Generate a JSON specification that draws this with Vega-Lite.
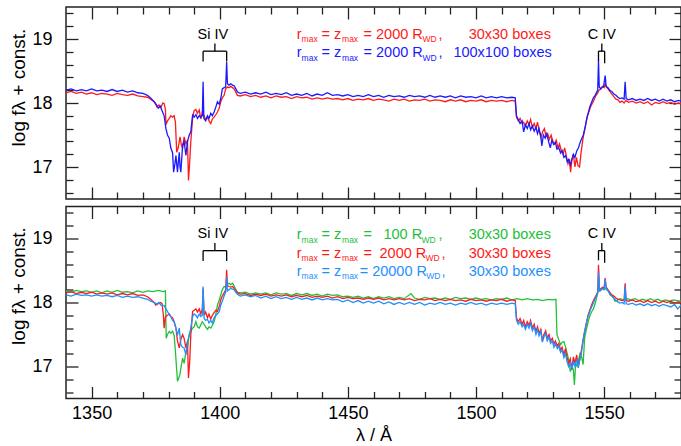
{
"$schema":"https://vega.github.io/schema/vega-lite/v6.json",
"padding":{"left":8,"top":5,"right":0,"bottom":4},
"spacing":3.5,
"config":{"font":"Liberation Sans","view":{"stroke":"#222","strokeWidth":1.5},"axis":{"labelColor":"#000","titleColor":"#000","tickColor":"#222","tickWidth":1.3}},
"datasets":{
"t30":[{"w":1340,"f":18.16},{"w":1342,"f":18.18},{"w":1344,"f":18.15},{"w":1346,"f":18.17},{"w":1348,"f":18.14},{"w":1350,"f":18.16},{"w":1352,"f":18.13},{"w":1354,"f":18.15},{"w":1356,"f":18.14},{"w":1358,"f":18.12},{"w":1360,"f":18.15},{"w":1362,"f":18.13},{"w":1364,"f":18.12},{"w":1366,"f":18.14},{"w":1368,"f":18.11},{"w":1370,"f":18.1},{"w":1371.8,"f":18.09},{"w":1373,"f":18.06},{"w":1374.4,"f":18.02},{"w":1375.5,"f":17.94},{"w":1376.3,"f":17.97},{"w":1377,"f":17.93},{"w":1377.8,"f":18.0},{"w":1378.3,"f":17.99},{"w":1378.8,"f":17.9},{"w":1379,"f":17.66},{"w":1379.6,"f":17.72},{"w":1380.3,"f":17.76},{"w":1380.9,"f":17.8},{"w":1381.6,"f":17.78},{"w":1382.2,"f":17.8},{"w":1382.7,"f":17.7},{"w":1383.2,"f":17.23},{"w":1383.8,"f":17.3},{"w":1384.5,"f":17.47},{"w":1385,"f":17.35},{"w":1385.5,"f":17.29},{"w":1386.1,"f":17.47},{"w":1386.8,"f":17.36},{"w":1387.4,"f":17.42},{"w":1387.8,"f":16.79},{"w":1388.3,"f":17.1},{"w":1388.7,"f":17.4},{"w":1389.4,"f":17.76},{"w":1390,"f":17.88},{"w":1390.7,"f":17.9},{"w":1391.3,"f":17.84},{"w":1392,"f":17.89},{"w":1392.6,"f":17.75},{"w":1393.2,"f":17.85},{"w":1393.9,"f":17.8},{"w":1394.5,"f":17.74},{"w":1395.2,"f":17.78},{"w":1395.8,"f":17.72},{"w":1396.5,"f":17.68},{"w":1397.1,"f":17.75},{"w":1397.8,"f":17.78},{"w":1398.5,"f":17.82},{"w":1399.1,"f":17.86},{"w":1399.8,"f":17.92},{"w":1400.4,"f":18.02},{"w":1401,"f":18.08},{"w":1401.7,"f":18.12},{"w":1402.3,"f":18.22},{"w":1403,"f":18.25},{"w":1403.6,"f":18.24},{"w":1404.3,"f":18.26},{"w":1405,"f":18.24},{"w":1405.6,"f":18.22},{"w":1406.3,"f":18.17},{"w":1406.9,"f":18.12},{"w":1408,"f":18.11},{"w":1410,"f":18.13},{"w":1412,"f":18.1},{"w":1414,"f":18.12},{"w":1416,"f":18.09},{"w":1418,"f":18.11},{"w":1420,"f":18.08},{"w":1422,"f":18.11},{"w":1424,"f":18.09},{"w":1426,"f":18.1},{"w":1428,"f":18.07},{"w":1430,"f":18.1},{"w":1432,"f":18.08},{"w":1434,"f":18.09},{"w":1436,"f":18.06},{"w":1438,"f":18.08},{"w":1440,"f":18.06},{"w":1442,"f":18.08},{"w":1444,"f":18.06},{"w":1446,"f":18.07},{"w":1448,"f":18.05},{"w":1450,"f":18.07},{"w":1452,"f":18.04},{"w":1454,"f":18.06},{"w":1456,"f":18.05},{"w":1458,"f":18.07},{"w":1460,"f":18.04},{"w":1462,"f":18.06},{"w":1464,"f":18.05},{"w":1466,"f":18.03},{"w":1468,"f":18.06},{"w":1470,"f":18.04},{"w":1472,"f":18.06},{"w":1474,"f":18.03},{"w":1476,"f":18.05},{"w":1478,"f":18.04},{"w":1480,"f":18.06},{"w":1482,"f":18.03},{"w":1484,"f":18.05},{"w":1486,"f":18.04},{"w":1488,"f":18.02},{"w":1490,"f":18.05},{"w":1492,"f":18.03},{"w":1494,"f":18.05},{"w":1496,"f":18.02},{"w":1498,"f":18.04},{"w":1500,"f":18.03},{"w":1502,"f":18.05},{"w":1504,"f":18.02},{"w":1506,"f":18.04},{"w":1508,"f":18.03},{"w":1510,"f":18.04},{"w":1512,"f":18.02},{"w":1514,"f":18.04},{"w":1515.3,"f":18.03},{"w":1515.8,"f":17.78},{"w":1516.5,"f":17.72},{"w":1517.2,"f":17.76},{"w":1518,"f":17.68},{"w":1518.6,"f":17.7},{"w":1519.3,"f":17.64},{"w":1520,"f":17.72},{"w":1520.7,"f":17.66},{"w":1521.3,"f":17.74},{"w":1522,"f":17.62},{"w":1522.7,"f":17.68},{"w":1523.4,"f":17.6},{"w":1524,"f":17.7},{"w":1524.6,"f":17.58},{"w":1525.3,"f":17.46},{"w":1526,"f":17.55},{"w":1526.7,"f":17.6},{"w":1527.3,"f":17.48},{"w":1528,"f":17.52},{"w":1528.6,"f":17.43},{"w":1529.3,"f":17.5},{"w":1530,"f":17.4},{"w":1530.6,"f":17.36},{"w":1531.3,"f":17.42},{"w":1532,"f":17.3},{"w":1532.6,"f":17.36},{"w":1533.3,"f":17.25},{"w":1534,"f":17.2},{"w":1534.6,"f":17.3},{"w":1535.2,"f":17.18},{"w":1535.9,"f":17.05},{"w":1536.5,"f":17.12},{"w":1536.9,"f":16.92},{"w":1537.4,"f":17.1},{"w":1538,"f":17.2},{"w":1538.6,"f":17.0},{"w":1539.2,"f":17.15},{"w":1539.8,"f":17.02},{"w":1540.4,"f":17.0},{"w":1541,"f":17.22},{"w":1541.6,"f":17.4},{"w":1542.2,"f":17.55},{"w":1542.9,"f":17.68},{"w":1543.5,"f":17.8},{"w":1544.2,"f":17.88},{"w":1544.8,"f":17.95},{"w":1545.5,"f":18.0},{"w":1546.1,"f":18.05},{"w":1546.8,"f":18.12},{"w":1547.4,"f":18.15},{"w":1548,"f":18.2},{"w":1548.7,"f":18.22},{"w":1549.3,"f":18.26},{"w":1550,"f":18.24},{"w":1550.4,"f":18.3},{"w":1550.8,"f":18.25},{"w":1551.5,"f":18.22},{"w":1552.2,"f":18.18},{"w":1553,"f":18.14},{"w":1553.8,"f":18.1},{"w":1554.6,"f":18.06},{"w":1555.4,"f":18.05},{"w":1556.2,"f":18.01},{"w":1557,"f":18.03},{"w":1557.8,"f":18.0},{"w":1558.5,"f":18.04},{"w":1559.5,"f":18.01},{"w":1561,"f":18.03},{"w":1562.5,"f":18.0},{"w":1564,"f":18.02},{"w":1565.5,"f":17.99},{"w":1567,"f":18.02},{"w":1568.5,"f":17.97},{"w":1570,"f":18.01},{"w":1571.5,"f":17.99},{"w":1573,"f":18.02},{"w":1574.5,"f":17.99},{"w":1576,"f":18.01},{"w":1577.5,"f":17.98},{"w":1579,"f":18.0},{"w":1580,"f":17.99}],
"t100":[{"w":1340,"f":18.2},{"w":1342,"f":18.22},{"w":1344,"f":18.19},{"w":1346,"f":18.21},{"w":1348,"f":18.19},{"w":1350,"f":18.22},{"w":1352,"f":18.19},{"w":1354,"f":18.2},{"w":1356,"f":18.18},{"w":1358,"f":18.21},{"w":1360,"f":18.18},{"w":1362,"f":18.2},{"w":1364,"f":18.17},{"w":1366,"f":18.19},{"w":1368,"f":18.16},{"w":1370,"f":18.15},{"w":1371.8,"f":18.12},{"w":1373,"f":18.08},{"w":1374.4,"f":18.02},{"w":1375.2,"f":17.98},{"w":1376,"f":17.92},{"w":1376.8,"f":17.95},{"w":1377.5,"f":17.88},{"w":1378.3,"f":17.8},{"w":1379,"f":17.6},{"w":1379.6,"f":17.5},{"w":1380.3,"f":17.45},{"w":1380.9,"f":17.3},{"w":1381.6,"f":17.22},{"w":1382,"f":16.92},{"w":1382.5,"f":17.05},{"w":1382.9,"f":17.18},{"w":1383.2,"f":17.05},{"w":1383.5,"f":16.92},{"w":1383.9,"f":17.1},{"w":1384.2,"f":17.23},{"w":1384.5,"f":17.0},{"w":1384.8,"f":16.92},{"w":1385.2,"f":17.15},{"w":1385.5,"f":17.34},{"w":1386.1,"f":17.4},{"w":1386.8,"f":17.18},{"w":1387.4,"f":17.4},{"w":1388.1,"f":17.5},{"w":1388.7,"f":17.55},{"w":1389.4,"f":17.81},{"w":1390,"f":17.78},{"w":1390.7,"f":17.82},{"w":1391.3,"f":17.76},{"w":1392,"f":17.8},{"w":1392.6,"f":17.78},{"w":1393.2,"f":17.8},{"w":1393.5,"f":18.33},{"w":1393.8,"f":17.76},{"w":1394.5,"f":17.72},{"w":1395.2,"f":17.8},{"w":1395.8,"f":17.76},{"w":1396.5,"f":17.84},{"w":1397.1,"f":17.8},{"w":1397.8,"f":17.86},{"w":1398.5,"f":17.94},{"w":1399.1,"f":18.02},{"w":1399.8,"f":17.98},{"w":1400.4,"f":18.07},{"w":1401,"f":18.22},{"w":1401.7,"f":18.24},{"w":1402.3,"f":18.25},{"w":1402.7,"f":18.64},{"w":1403,"f":18.3},{"w":1403.6,"f":18.28},{"w":1404.3,"f":18.3},{"w":1405,"f":18.28},{"w":1405.6,"f":18.27},{"w":1406.3,"f":18.22},{"w":1406.9,"f":18.17},{"w":1408,"f":18.15},{"w":1410,"f":18.17},{"w":1412,"f":18.14},{"w":1414,"f":18.16},{"w":1416,"f":18.14},{"w":1418,"f":18.17},{"w":1420,"f":18.13},{"w":1422,"f":18.15},{"w":1424,"f":18.13},{"w":1426,"f":18.16},{"w":1428,"f":18.12},{"w":1430,"f":18.14},{"w":1432,"f":18.12},{"w":1434,"f":18.15},{"w":1436,"f":18.11},{"w":1438,"f":18.14},{"w":1440,"f":18.12},{"w":1442,"f":18.16},{"w":1444,"f":18.12},{"w":1446,"f":18.13},{"w":1448,"f":18.11},{"w":1450,"f":18.13},{"w":1452,"f":18.1},{"w":1454,"f":18.12},{"w":1456,"f":18.1},{"w":1458,"f":18.13},{"w":1460,"f":18.1},{"w":1462,"f":18.12},{"w":1464,"f":18.09},{"w":1466,"f":18.12},{"w":1468,"f":18.1},{"w":1470,"f":18.11},{"w":1472,"f":18.09},{"w":1474,"f":18.12},{"w":1476,"f":18.1},{"w":1478,"f":18.11},{"w":1480,"f":18.09},{"w":1482,"f":18.12},{"w":1484,"f":18.09},{"w":1486,"f":18.11},{"w":1488,"f":18.09},{"w":1490,"f":18.11},{"w":1492,"f":18.08},{"w":1494,"f":18.11},{"w":1496,"f":18.09},{"w":1498,"f":18.1},{"w":1500,"f":18.08},{"w":1502,"f":18.11},{"w":1504,"f":18.08},{"w":1506,"f":18.1},{"w":1508,"f":18.08},{"w":1510,"f":18.1},{"w":1512,"f":18.08},{"w":1514,"f":18.09},{"w":1515.3,"f":18.08},{"w":1515.8,"f":17.8},{"w":1516.5,"f":17.74},{"w":1517.2,"f":17.68},{"w":1518,"f":17.72},{"w":1518.6,"f":17.55},{"w":1519.3,"f":17.66},{"w":1520,"f":17.6},{"w":1520.7,"f":17.68},{"w":1521.3,"f":17.58},{"w":1522,"f":17.64},{"w":1522.7,"f":17.56},{"w":1523.4,"f":17.62},{"w":1524,"f":17.52},{"w":1524.6,"f":17.6},{"w":1525.3,"f":17.48},{"w":1525.7,"f":17.33},{"w":1526.3,"f":17.5},{"w":1527,"f":17.45},{"w":1527.6,"f":17.52},{"w":1528.3,"f":17.4},{"w":1529,"f":17.3},{"w":1529.6,"f":17.42},{"w":1530.3,"f":17.35},{"w":1531,"f":17.38},{"w":1531.6,"f":17.28},{"w":1532.3,"f":17.3},{"w":1533,"f":17.22},{"w":1533.6,"f":17.26},{"w":1534.3,"f":17.15},{"w":1535,"f":17.18},{"w":1535.6,"f":17.08},{"w":1536.2,"f":17.12},{"w":1536.8,"f":17.03},{"w":1537.4,"f":17.12},{"w":1538,"f":17.2},{"w":1538.6,"f":17.15},{"w":1539.3,"f":17.25},{"w":1540,"f":17.3},{"w":1540.6,"f":17.38},{"w":1541.3,"f":17.45},{"w":1541.9,"f":17.5},{"w":1542.6,"f":17.62},{"w":1543.2,"f":17.75},{"w":1543.9,"f":17.86},{"w":1544.5,"f":17.95},{"w":1545.2,"f":18.02},{"w":1545.8,"f":18.08},{"w":1546.5,"f":18.12},{"w":1547.1,"f":18.17},{"w":1547.5,"f":18.2},{"w":1547.8,"f":18.67},{"w":1548.1,"f":18.25},{"w":1548.7,"f":18.22},{"w":1549.3,"f":18.25},{"w":1549.8,"f":18.26},{"w":1550.4,"f":18.43},{"w":1550.8,"f":18.26},{"w":1551.5,"f":18.24},{"w":1552.2,"f":18.2},{"w":1553,"f":18.18},{"w":1553.8,"f":18.14},{"w":1554.6,"f":18.12},{"w":1555.4,"f":18.09},{"w":1556.2,"f":18.07},{"w":1557,"f":18.08},{"w":1557.8,"f":18.06},{"w":1558.2,"f":18.33},{"w":1558.6,"f":18.07},{"w":1559.5,"f":18.05},{"w":1561,"f":18.07},{"w":1562.5,"f":18.04},{"w":1564,"f":18.06},{"w":1565.5,"f":18.04},{"w":1567,"f":18.07},{"w":1568.5,"f":18.04},{"w":1570,"f":18.06},{"w":1571.5,"f":18.03},{"w":1573,"f":18.06},{"w":1574.5,"f":18.03},{"w":1576,"f":18.05},{"w":1577.5,"f":18.02},{"w":1579,"f":18.04},{"w":1580,"f":18.03}],
"b100":[{"w":1340,"f":18.18},{"w":1342,"f":18.16},{"w":1344,"f":18.19},{"w":1346,"f":18.17},{"w":1348,"f":18.18},{"w":1350,"f":18.16},{"w":1352,"f":18.18},{"w":1354,"f":18.15},{"w":1356,"f":18.18},{"w":1358,"f":18.16},{"w":1360,"f":18.19},{"w":1362,"f":18.16},{"w":1364,"f":18.17},{"w":1366,"f":18.15},{"w":1368,"f":18.18},{"w":1370,"f":18.16},{"w":1372,"f":18.18},{"w":1374,"f":18.17},{"w":1376,"f":18.19},{"w":1378,"f":18.17},{"w":1378.8,"f":18.18},{"w":1379.1,"f":17.44},{"w":1379.6,"f":17.5},{"w":1380.3,"f":17.55},{"w":1380.9,"f":17.52},{"w":1381.6,"f":17.55},{"w":1382.2,"f":17.49},{"w":1382.6,"f":17.29},{"w":1383.2,"f":16.95},{"w":1383.5,"f":16.77},{"w":1384,"f":16.82},{"w":1384.5,"f":16.88},{"w":1384.8,"f":16.97},{"w":1385.5,"f":17.13},{"w":1386.1,"f":17.05},{"w":1386.8,"f":17.23},{"w":1387.4,"f":17.29},{"w":1388.1,"f":17.5},{"w":1388.7,"f":17.55},{"w":1389.4,"f":17.6},{"w":1390,"f":17.62},{"w":1390.7,"f":17.7},{"w":1391.3,"f":17.62},{"w":1392,"f":17.6},{"w":1392.6,"f":17.65},{"w":1393.2,"f":17.7},{"w":1393.9,"f":17.66},{"w":1394.5,"f":17.62},{"w":1395.2,"f":17.58},{"w":1395.8,"f":17.62},{"w":1396.5,"f":17.6},{"w":1397.1,"f":17.64},{"w":1397.8,"f":17.7},{"w":1398.5,"f":17.82},{"w":1399.1,"f":17.96},{"w":1399.8,"f":18.04},{"w":1400.4,"f":18.12},{"w":1401,"f":18.2},{"w":1401.7,"f":18.25},{"w":1402.3,"f":18.24},{"w":1403,"f":18.28},{"w":1403.6,"f":18.3},{"w":1404.3,"f":18.28},{"w":1405,"f":18.3},{"w":1405.6,"f":18.26},{"w":1406.3,"f":18.2},{"w":1406.9,"f":18.16},{"w":1408,"f":18.15},{"w":1410,"f":18.16},{"w":1412,"f":18.13},{"w":1414,"f":18.15},{"w":1416,"f":18.13},{"w":1418,"f":18.15},{"w":1420,"f":18.12},{"w":1422,"f":18.15},{"w":1424,"f":18.13},{"w":1426,"f":18.14},{"w":1428,"f":18.11},{"w":1430,"f":18.14},{"w":1432,"f":18.12},{"w":1434,"f":18.14},{"w":1436,"f":18.11},{"w":1438,"f":18.13},{"w":1440,"f":18.1},{"w":1442,"f":18.13},{"w":1444,"f":18.11},{"w":1446,"f":18.12},{"w":1448,"f":18.09},{"w":1450,"f":18.1},{"w":1452,"f":18.08},{"w":1454,"f":18.1},{"w":1456,"f":18.07},{"w":1458,"f":18.09},{"w":1460,"f":18.06},{"w":1462,"f":18.09},{"w":1464,"f":18.07},{"w":1466,"f":18.09},{"w":1468,"f":18.06},{"w":1470,"f":18.08},{"w":1472,"f":18.06},{"w":1474.6,"f":18.14},{"w":1476,"f":18.07},{"w":1478,"f":18.05},{"w":1480,"f":18.08},{"w":1482,"f":18.06},{"w":1484,"f":18.07},{"w":1486,"f":18.05},{"w":1488,"f":18.07},{"w":1490,"f":18.05},{"w":1492,"f":18.08},{"w":1494,"f":18.06},{"w":1496,"f":18.07},{"w":1498,"f":18.05},{"w":1500,"f":18.07},{"w":1502,"f":18.05},{"w":1504,"f":18.06},{"w":1506,"f":18.04},{"w":1508,"f":18.06},{"w":1510,"f":18.05},{"w":1512,"f":18.07},{"w":1514,"f":18.04},{"w":1516,"f":18.06},{"w":1518,"f":18.04},{"w":1520,"f":18.06},{"w":1522,"f":18.04},{"w":1524,"f":18.05},{"w":1526,"f":18.03},{"w":1528,"f":18.05},{"w":1530,"f":18.04},{"w":1531.2,"f":18.05},{"w":1531.6,"f":17.5},{"w":1532.3,"f":17.42},{"w":1533,"f":17.34},{"w":1533.6,"f":17.38},{"w":1534.3,"f":17.39},{"w":1535,"f":17.3},{"w":1535.6,"f":17.2},{"w":1536.2,"f":17.1},{"w":1536.8,"f":16.92},{"w":1537.4,"f":17.0},{"w":1538,"f":16.95},{"w":1538.4,"f":16.71},{"w":1538.8,"f":16.98},{"w":1539.3,"f":17.03},{"w":1540,"f":17.1},{"w":1540.6,"f":17.2},{"w":1541.2,"f":17.15},{"w":1541.8,"f":17.03},{"w":1542.4,"f":17.45},{"w":1543.2,"f":17.6},{"w":1543.9,"f":17.72},{"w":1544.5,"f":17.8},{"w":1545.2,"f":17.86},{"w":1545.8,"f":17.9},{"w":1546.5,"f":17.98},{"w":1547.1,"f":18.08},{"w":1547.8,"f":18.25},{"w":1548.4,"f":18.18},{"w":1549,"f":18.2},{"w":1549.7,"f":18.22},{"w":1550.4,"f":18.22},{"w":1551,"f":18.2},{"w":1551.7,"f":18.18},{"w":1552.3,"f":18.12},{"w":1553,"f":18.1},{"w":1553.6,"f":18.08},{"w":1554.2,"f":18.02},{"w":1554.9,"f":18.03},{"w":1555.6,"f":18.05},{"w":1556.2,"f":18.06},{"w":1557,"f":18.05},{"w":1558,"f":18.04},{"w":1559,"f":18.06},{"w":1560.5,"f":18.04},{"w":1562,"f":18.06},{"w":1563.5,"f":18.03},{"w":1565,"f":18.05},{"w":1566.5,"f":18.03},{"w":1568,"f":18.06},{"w":1569.5,"f":18.03},{"w":1571,"f":18.05},{"w":1572.5,"f":18.02},{"w":1574,"f":18.04},{"w":1575.5,"f":18.02},{"w":1577,"f":18.04},{"w":1578.5,"f":18.03},{"w":1580,"f":18.02}],
"b2000":[{"w":1340,"f":18.15},{"w":1342,"f":18.17},{"w":1344,"f":18.14},{"w":1346,"f":18.16},{"w":1348,"f":18.14},{"w":1350,"f":18.16},{"w":1352,"f":18.13},{"w":1354,"f":18.15},{"w":1356,"f":18.13},{"w":1358,"f":18.15},{"w":1360,"f":18.12},{"w":1362,"f":18.14},{"w":1364,"f":18.12},{"w":1366,"f":18.14},{"w":1368,"f":18.11},{"w":1370,"f":18.12},{"w":1371.8,"f":18.09},{"w":1373,"f":18.05},{"w":1374.4,"f":18.0},{"w":1375,"f":17.96},{"w":1376,"f":17.98},{"w":1377,"f":18.0},{"w":1377.5,"f":17.98},{"w":1378,"f":17.8},{"w":1378.3,"f":17.6},{"w":1378.8,"f":17.78},{"w":1379.6,"f":17.8},{"w":1380.3,"f":17.82},{"w":1380.9,"f":17.78},{"w":1381.6,"f":17.76},{"w":1382.2,"f":17.7},{"w":1382.9,"f":17.6},{"w":1383.5,"f":17.4},{"w":1384.2,"f":17.29},{"w":1384.8,"f":17.42},{"w":1385.5,"f":17.5},{"w":1386.1,"f":17.44},{"w":1386.8,"f":17.29},{"w":1387.4,"f":17.39},{"w":1387.8,"f":16.82},{"w":1388.3,"f":17.1},{"w":1388.7,"f":17.49},{"w":1389.4,"f":17.86},{"w":1390,"f":17.88},{"w":1390.7,"f":17.9},{"w":1391.3,"f":17.85},{"w":1392,"f":17.9},{"w":1392.6,"f":17.82},{"w":1393.2,"f":17.9},{"w":1393.5,"f":18.22},{"w":1393.9,"f":17.8},{"w":1394.5,"f":17.85},{"w":1395.2,"f":17.76},{"w":1395.8,"f":17.82},{"w":1396.5,"f":17.74},{"w":1397.1,"f":17.8},{"w":1397.8,"f":17.84},{"w":1398.5,"f":17.88},{"w":1399.1,"f":17.86},{"w":1399.8,"f":17.94},{"w":1400.4,"f":18.04},{"w":1401,"f":18.1},{"w":1401.7,"f":18.15},{"w":1402.3,"f":18.2},{"w":1402.7,"f":18.51},{"w":1403,"f":18.26},{"w":1403.6,"f":18.25},{"w":1404.3,"f":18.24},{"w":1405,"f":18.25},{"w":1405.6,"f":18.22},{"w":1406.3,"f":18.19},{"w":1406.9,"f":18.15},{"w":1408,"f":18.13},{"w":1410,"f":18.14},{"w":1412,"f":18.11},{"w":1414,"f":18.13},{"w":1416,"f":18.11},{"w":1418,"f":18.13},{"w":1420,"f":18.1},{"w":1422,"f":18.12},{"w":1424,"f":18.1},{"w":1426,"f":18.12},{"w":1428,"f":18.09},{"w":1430,"f":18.11},{"w":1432,"f":18.09},{"w":1434,"f":18.11},{"w":1436,"f":18.08},{"w":1438,"f":18.1},{"w":1440,"f":18.08},{"w":1442,"f":18.1},{"w":1444,"f":18.07},{"w":1446,"f":18.09},{"w":1448,"f":18.06},{"w":1450,"f":18.08},{"w":1452,"f":18.06},{"w":1454,"f":18.07},{"w":1456,"f":18.05},{"w":1458,"f":18.07},{"w":1460,"f":18.05},{"w":1462,"f":18.07},{"w":1464,"f":18.04},{"w":1466,"f":18.06},{"w":1468,"f":18.04},{"w":1470,"f":18.06},{"w":1472,"f":18.04},{"w":1474,"f":18.06},{"w":1476,"f":18.03},{"w":1478,"f":18.05},{"w":1480,"f":18.04},{"w":1482,"f":18.06},{"w":1484,"f":18.03},{"w":1486,"f":18.05},{"w":1488,"f":18.03},{"w":1490,"f":18.05},{"w":1492,"f":18.03},{"w":1494,"f":18.04},{"w":1496,"f":18.02},{"w":1498,"f":18.05},{"w":1500,"f":18.03},{"w":1502,"f":18.04},{"w":1504,"f":18.02},{"w":1506,"f":18.04},{"w":1508,"f":18.03},{"w":1510,"f":18.05},{"w":1512,"f":18.02},{"w":1514,"f":18.04},{"w":1515.3,"f":18.03},{"w":1515.8,"f":17.76},{"w":1516.5,"f":17.7},{"w":1517.2,"f":17.75},{"w":1518,"f":17.66},{"w":1518.6,"f":17.72},{"w":1519.3,"f":17.62},{"w":1520,"f":17.7},{"w":1520.7,"f":17.64},{"w":1521.3,"f":17.72},{"w":1522,"f":17.6},{"w":1522.7,"f":17.66},{"w":1523.4,"f":17.55},{"w":1524,"f":17.62},{"w":1524.6,"f":17.52},{"w":1525.3,"f":17.58},{"w":1525.9,"f":17.4},{"w":1526.5,"f":17.5},{"w":1527.2,"f":17.56},{"w":1527.8,"f":17.45},{"w":1528.5,"f":17.5},{"w":1529.1,"f":17.4},{"w":1529.8,"f":17.44},{"w":1530.4,"f":17.35},{"w":1531,"f":17.4},{"w":1531.7,"f":17.32},{"w":1532.3,"f":17.36},{"w":1533,"f":17.26},{"w":1533.6,"f":17.3},{"w":1534.3,"f":17.18},{"w":1534.9,"f":17.28},{"w":1535.5,"f":17.15},{"w":1536.1,"f":17.05},{"w":1536.8,"f":17.12},{"w":1537.4,"f":16.95},{"w":1538,"f":17.15},{"w":1538.6,"f":17.05},{"w":1539.3,"f":17.18},{"w":1539.9,"f":17.0},{"w":1540.5,"f":17.12},{"w":1541.1,"f":17.25},{"w":1541.8,"f":17.42},{"w":1542.4,"f":17.55},{"w":1543.1,"f":17.68},{"w":1543.7,"f":17.8},{"w":1544.4,"f":17.88},{"w":1545,"f":17.95},{"w":1545.7,"f":18.02},{"w":1546.3,"f":18.07},{"w":1547,"f":18.12},{"w":1547.5,"f":18.16},{"w":1547.8,"f":18.59},{"w":1548.2,"f":18.2},{"w":1548.8,"f":18.22},{"w":1549.4,"f":18.24},{"w":1550,"f":18.23},{"w":1550.4,"f":18.38},{"w":1550.8,"f":18.24},{"w":1551.5,"f":18.2},{"w":1552.2,"f":18.16},{"w":1553,"f":18.12},{"w":1553.8,"f":18.1},{"w":1554.6,"f":18.07},{"w":1555.4,"f":18.05},{"w":1556.2,"f":18.04},{"w":1557,"f":18.03},{"w":1557.8,"f":18.04},{"w":1558.2,"f":18.3},{"w":1558.6,"f":18.03},{"w":1559.5,"f":18.02},{"w":1561,"f":18.04},{"w":1562.5,"f":18.01},{"w":1564,"f":18.03},{"w":1565.5,"f":18.0},{"w":1567,"f":18.03},{"w":1568.5,"f":18.0},{"w":1570,"f":18.02},{"w":1571.5,"f":17.99},{"w":1573,"f":18.02},{"w":1574.5,"f":18.0},{"w":1576,"f":18.02},{"w":1577.5,"f":17.99},{"w":1579,"f":18.01},{"w":1580,"f":18.0}],
"b20000":[{"w":1340,"f":18.12},{"w":1342,"f":18.1},{"w":1344,"f":18.13},{"w":1346,"f":18.11},{"w":1348,"f":18.12},{"w":1350,"f":18.1},{"w":1352,"f":18.12},{"w":1354,"f":18.1},{"w":1356,"f":18.11},{"w":1358,"f":18.09},{"w":1360,"f":18.11},{"w":1362,"f":18.08},{"w":1364,"f":18.1},{"w":1366,"f":18.08},{"w":1368,"f":18.09},{"w":1370,"f":18.07},{"w":1371.8,"f":18.05},{"w":1373,"f":18.02},{"w":1374.4,"f":18.0},{"w":1375.5,"f":17.98},{"w":1376.3,"f":18.0},{"w":1377,"f":17.96},{"w":1378.3,"f":17.95},{"w":1379,"f":17.9},{"w":1379.6,"f":17.86},{"w":1380.3,"f":17.81},{"w":1380.9,"f":17.78},{"w":1381.6,"f":17.72},{"w":1382.2,"f":17.7},{"w":1382.9,"f":17.6},{"w":1383.5,"f":17.49},{"w":1384.2,"f":17.6},{"w":1384.8,"f":17.34},{"w":1385.5,"f":17.3},{"w":1386.1,"f":17.29},{"w":1386.8,"f":17.18},{"w":1387.4,"f":17.39},{"w":1388.1,"f":17.49},{"w":1388.7,"f":17.6},{"w":1389.4,"f":17.78},{"w":1390,"f":17.82},{"w":1390.7,"f":17.8},{"w":1391.3,"f":17.76},{"w":1392,"f":17.82},{"w":1392.6,"f":17.78},{"w":1393.2,"f":17.8},{"w":1393.5,"f":18.25},{"w":1393.9,"f":17.75},{"w":1394.5,"f":17.72},{"w":1395.2,"f":17.74},{"w":1395.8,"f":17.68},{"w":1396.5,"f":17.72},{"w":1397.1,"f":17.68},{"w":1397.8,"f":17.76},{"w":1398.5,"f":17.8},{"w":1399.1,"f":17.82},{"w":1399.8,"f":17.86},{"w":1400.4,"f":17.96},{"w":1401,"f":18.02},{"w":1401.7,"f":18.1},{"w":1402.3,"f":18.16},{"w":1402.7,"f":18.4},{"w":1403,"f":18.18},{"w":1403.6,"f":18.2},{"w":1404.3,"f":18.22},{"w":1405,"f":18.21},{"w":1405.6,"f":18.2},{"w":1406.3,"f":18.16},{"w":1406.9,"f":18.13},{"w":1408,"f":18.1},{"w":1410,"f":18.12},{"w":1412,"f":18.09},{"w":1414,"f":18.11},{"w":1416,"f":18.07},{"w":1418,"f":18.1},{"w":1420,"f":18.06},{"w":1422,"f":18.09},{"w":1424,"f":18.06},{"w":1426,"f":18.08},{"w":1428,"f":18.05},{"w":1430,"f":18.08},{"w":1432,"f":18.05},{"w":1434,"f":18.07},{"w":1436,"f":18.04},{"w":1438,"f":18.07},{"w":1440,"f":18.04},{"w":1442,"f":18.06},{"w":1444,"f":18.04},{"w":1446,"f":18.05},{"w":1448,"f":18.01},{"w":1450,"f":18.04},{"w":1452,"f":18.0},{"w":1454,"f":18.03},{"w":1456,"f":17.99},{"w":1458,"f":18.02},{"w":1460,"f":17.99},{"w":1462,"f":18.02},{"w":1464,"f":17.98},{"w":1466,"f":18.01},{"w":1468,"f":17.97},{"w":1470,"f":18.0},{"w":1472,"f":17.97},{"w":1474,"f":18.0},{"w":1476,"f":17.97},{"w":1478,"f":18.0},{"w":1480,"f":17.96},{"w":1482,"f":17.99},{"w":1484,"f":17.97},{"w":1486,"f":18.0},{"w":1488,"f":17.97},{"w":1490,"f":17.99},{"w":1492,"f":17.96},{"w":1494,"f":17.99},{"w":1496,"f":17.97},{"w":1498,"f":18.0},{"w":1500,"f":17.97},{"w":1502,"f":17.99},{"w":1504,"f":17.96},{"w":1506,"f":17.99},{"w":1508,"f":17.97},{"w":1510,"f":17.99},{"w":1512,"f":17.97},{"w":1514,"f":17.99},{"w":1515.3,"f":17.98},{"w":1515.8,"f":17.72},{"w":1516.5,"f":17.66},{"w":1517.2,"f":17.7},{"w":1518,"f":17.62},{"w":1518.6,"f":17.66},{"w":1519.3,"f":17.58},{"w":1520,"f":17.66},{"w":1520.7,"f":17.6},{"w":1521.3,"f":17.68},{"w":1522,"f":17.56},{"w":1522.7,"f":17.62},{"w":1523.4,"f":17.5},{"w":1524,"f":17.58},{"w":1524.6,"f":17.48},{"w":1525.3,"f":17.55},{"w":1525.9,"f":17.38},{"w":1526.5,"f":17.46},{"w":1527.2,"f":17.52},{"w":1527.8,"f":17.4},{"w":1528.5,"f":17.46},{"w":1529.1,"f":17.36},{"w":1529.8,"f":17.4},{"w":1530.4,"f":17.3},{"w":1531,"f":17.36},{"w":1531.7,"f":17.28},{"w":1532.3,"f":17.32},{"w":1533,"f":17.22},{"w":1533.6,"f":17.26},{"w":1534.3,"f":17.14},{"w":1534.9,"f":17.2},{"w":1535.5,"f":17.08},{"w":1536.1,"f":17.0},{"w":1536.8,"f":17.06},{"w":1537.4,"f":16.95},{"w":1538,"f":17.08},{"w":1538.6,"f":17.0},{"w":1539.3,"f":17.12},{"w":1539.9,"f":16.98},{"w":1540.5,"f":17.1},{"w":1541.1,"f":17.2},{"w":1541.8,"f":17.4},{"w":1542.4,"f":17.55},{"w":1543.1,"f":17.68},{"w":1543.7,"f":17.78},{"w":1544.4,"f":17.86},{"w":1545,"f":17.92},{"w":1545.7,"f":17.98},{"w":1546.3,"f":18.04},{"w":1547,"f":18.1},{"w":1547.5,"f":18.14},{"w":1547.8,"f":18.48},{"w":1548.2,"f":18.18},{"w":1548.8,"f":18.2},{"w":1549.4,"f":18.22},{"w":1550,"f":18.2},{"w":1550.4,"f":18.36},{"w":1550.8,"f":18.22},{"w":1551.5,"f":18.18},{"w":1552.2,"f":18.14},{"w":1553,"f":18.1},{"w":1553.8,"f":18.07},{"w":1554.6,"f":18.03},{"w":1555.4,"f":18.01},{"w":1556.2,"f":17.99},{"w":1557,"f":18.0},{"w":1557.8,"f":17.98},{"w":1558.2,"f":18.25},{"w":1558.6,"f":17.98},{"w":1559.5,"f":17.97},{"w":1561,"f":17.99},{"w":1562.5,"f":17.96},{"w":1564,"f":17.98},{"w":1565.5,"f":17.95},{"w":1567,"f":17.98},{"w":1568.5,"f":17.95},{"w":1570,"f":17.97},{"w":1571.5,"f":17.94},{"w":1573,"f":17.97},{"w":1574.5,"f":17.95},{"w":1576,"f":17.93},{"w":1577.5,"f":17.97},{"w":1578.7,"f":17.9},{"w":1580,"f":17.96}],
"br":[{"w":1393.5,"w2":1402.7,"f":18.81,"f2":18.81},{"w":1393.5,"w2":1393.5,"f":18.81,"f2":18.65},{"w":1402.7,"w2":1402.7,"f":18.81,"f2":18.65},{"w":1398.1,"w2":1398.1,"f":18.81,"f2":18.93},{"w":1547.8,"w2":1550.2,"f":18.81,"f2":18.81},{"w":1547.8,"w2":1547.8,"f":18.81,"f2":18.66},{"w":1550.2,"w2":1550.2,"f":18.81,"f2":18.62},{"w":1549.1,"w2":1549.1,"f":18.81,"f2":18.93}],
"tm":[{"w":1391.3,"f":19.07,"t":"Si IV","s":"k"},{"w":1543.6,"f":19.07,"t":"C IV","s":"k"},
{"w":1430.0,"f":19.07,"t":"r","s":"t30"},{"w":1439.75,"f":19.07,"t":"= z","s":"t30"},{"w":1456.11,"f":19.07,"t":"= 2000 R","s":"t30"},{"w":1485.33,"f":19.07,"t":",","s":"t30"},{"w":1497.14,"f":19.07,"t":"30x30 boxes","s":"t30"},
{"w":1430.0,"f":18.78,"t":"r","s":"t100"},{"w":1439.75,"f":18.78,"t":"= z","s":"t100"},{"w":1456.11,"f":18.78,"t":"= 2000 R","s":"t100"},{"w":1485.33,"f":18.78,"t":",","s":"t100"},{"w":1491.18,"f":18.78,"t":"100x100 boxes","s":"t100"}],
"ts":[{"w":1431.95,"f":19.0,"t":"max","s":"t30"},{"w":1447.73,"f":19.0,"t":"max","s":"t30"},{"w":1479.1,"f":19.0,"t":"WD","s":"t30"},
{"w":1431.95,"f":18.71,"t":"max","s":"t100"},{"w":1447.73,"f":18.71,"t":"max","s":"t100"},{"w":1479.1,"f":18.71,"t":"WD","s":"t100"}],
"bm":[{"w":1391.3,"f":19.07,"t":"Si IV","s":"k"},{"w":1543.6,"f":19.07,"t":"C IV","s":"k"},
{"w":1430.0,"f":19.05,"t":"r","s":"b100"},{"w":1439.75,"f":19.05,"t":"= z","s":"b100"},{"w":1456.11,"f":19.05,"t":"=","s":"b100"},{"w":1463.9,"f":19.05,"t":"100 R","s":"b100"},{"w":1485.33,"f":19.05,"t":",","s":"b100"},{"w":1497.14,"f":19.05,"t":"30x30 boxes","s":"b100"},
{"w":1430.0,"f":18.76,"t":"r","s":"b2000"},{"w":1439.75,"f":18.76,"t":"= z","s":"b2000"},{"w":1456.11,"f":18.76,"t":"=","s":"b2000"},{"w":1462.35,"f":18.76,"t":"2000 R","s":"b2000"},{"w":1486.5,"f":18.76,"t":",","s":"b2000"},{"w":1497.14,"f":18.76,"t":"30x30 boxes","s":"b2000"},
{"w":1430.0,"f":18.48,"t":"r","s":"b20000"},{"w":1439.75,"f":18.48,"t":"= z","s":"b20000"},{"w":1454.6,"f":18.48,"t":"= 20000 R","s":"b20000"},{"w":1486.5,"f":18.48,"t":",","s":"b20000"},{"w":1497.14,"f":18.48,"t":"30x30 boxes","s":"b20000"}],
"bs":[{"w":1431.95,"f":18.98,"t":"max","s":"b100"},{"w":1447.73,"f":18.98,"t":"max","s":"b100"},{"w":1478.71,"f":18.98,"t":"WD","s":"b100"},
{"w":1431.95,"f":18.69,"t":"max","s":"b2000"},{"w":1447.73,"f":18.69,"t":"max","s":"b2000"},{"w":1480.3,"f":18.69,"t":"WD","s":"b2000"},
{"w":1431.95,"f":18.41,"t":"max","s":"b20000"},{"w":1447.73,"f":18.41,"t":"max","s":"b20000"},{"w":1480.6,"f":18.41,"t":"WD","s":"b20000"}]
},
"vconcat":[
{"width":615,"height":192,"resolve":{"axis":{"x":"independent","y":"independent"}},
"layer":[
{"data":{"name":"t30"},"mark":{"type":"line","strokeWidth":1.3,"color":"#ff1a1a"},
"encoding":{"x":{"field":"w","type":"quantitative","scale":{"domain":[1340,1580],"nice":false,"zero":false},"axis":{"orient":"bottom","values":[1350,1400,1450,1500,1550],"labels":false,"tickSize":-12,"domain":false,"grid":false,"title":null,"minExtent":0,"maxExtent":0}},
"y":{"field":"f","type":"quantitative","scale":{"domain":[16.5,19.5],"nice":false,"zero":false},"axis":{"orient":"left","values":[17,18,19],"ticks":false,"tickSize":0,"domain":false,"grid":false,"labelFontSize":18,"labelPadding":14,"title":"log fλ + const.","titleFontSize":19,"titleFontWeight":"normal","titlePadding":2,"titleY":80,"minExtent":36,"maxExtent":36}}}},
{"data":{"name":"t100"},"mark":{"type":"line","strokeWidth":1.3,"color":"#1a1aff"},
"encoding":{"x":{"field":"w","type":"quantitative","scale":{"domain":[1340,1580],"nice":false,"zero":false},"axis":{"orient":"bottom","values":[1360,1370,1380,1390,1410,1420,1430,1440,1460,1470,1480,1490,1510,1520,1530,1540,1560,1570],"labels":false,"tickSize":-7,"domain":false,"grid":false,"title":null,"minExtent":0,"maxExtent":0}},
"y":{"field":"f","type":"quantitative","scale":{"domain":[16.5,19.5],"nice":false,"zero":false},"axis":{"orient":"left","values":[17,18,19],"labels":false,"tickSize":-12,"domain":false,"grid":false,"title":null,"minExtent":0,"maxExtent":0}}}},
{"data":{"name":"br"},"mark":{"type":"rule","strokeWidth":1.3,"color":"#000"},
"encoding":{"x":{"field":"w","type":"quantitative","scale":{"domain":[1340,1580],"nice":false,"zero":false},"axis":{"orient":"top","values":[1350,1400,1450,1500,1550],"labels":false,"tickSize":-12,"domain":false,"grid":false,"title":null,"minExtent":0,"maxExtent":0}},"x2":{"field":"w2"},
"y":{"field":"f","type":"quantitative","scale":{"domain":[16.5,19.5],"nice":false,"zero":false},"axis":{"orient":"left","values":[16.6,16.8,17.2,17.4,17.6,17.8,18.2,18.4,18.6,18.8,19.2,19.4],"labels":false,"tickSize":-7,"domain":false,"grid":false,"title":null,"minExtent":0,"maxExtent":0}},"y2":{"field":"f2"}}},
{"data":{"name":"tm"},"mark":{"type":"text","fontSize":14.5,"align":"left","baseline":"middle"},
"encoding":{"x":{"field":"w","type":"quantitative","scale":{"domain":[1340,1580],"nice":false,"zero":false},"axis":{"orient":"top","values":[1360,1370,1380,1390,1410,1420,1430,1440,1460,1470,1480,1490,1510,1520,1530,1540,1560,1570],"labels":false,"tickSize":-7,"domain":false,"grid":false,"title":null,"minExtent":0,"maxExtent":0}},
"y":{"field":"f","type":"quantitative","scale":{"domain":[16.5,19.5],"nice":false,"zero":false},"axis":{"orient":"right","values":[17,18,19],"labels":false,"tickSize":-12,"domain":false,"grid":false,"title":null,"minExtent":0,"maxExtent":0}},
"text":{"field":"t"},"color":{"field":"s","type":"nominal","scale":{"domain":["t30","t100","b100","b2000","b20000","k"],"range":["#ff1a1a","#1a1aff","#22c03a","#ff1a1a","#1e90ff","#000000"]},"legend":null}}},
{"data":{"name":"ts"},"mark":{"type":"text","fontSize":8.5,"align":"left","baseline":"middle"},
"encoding":{"x":{"field":"w","type":"quantitative","scale":{"domain":[1340,1580],"nice":false,"zero":false},"axis":null},
"y":{"field":"f","type":"quantitative","scale":{"domain":[16.5,19.5],"nice":false,"zero":false},"axis":{"orient":"right","values":[16.6,16.8,17.2,17.4,17.6,17.8,18.2,18.4,18.6,18.8,19.2,19.4],"labels":false,"tickSize":-7,"domain":false,"grid":false,"title":null,"minExtent":0,"maxExtent":0}},
"text":{"field":"t"},"color":{"field":"s","type":"nominal","scale":{"domain":["t30","t100","b100","b2000","b20000","k"],"range":["#ff1a1a","#1a1aff","#22c03a","#ff1a1a","#1e90ff","#000000"]},"legend":null}}}
]},
{"width":615,"height":192,"resolve":{"axis":{"x":"independent","y":"independent"}},
"layer":[
{"data":{"name":"b100"},"mark":{"type":"line","strokeWidth":1.3,"color":"#22c03a"},
"encoding":{"x":{"field":"w","type":"quantitative","scale":{"domain":[1340,1580],"nice":false,"zero":false},"axis":{"orient":"bottom","values":[1350,1400,1450,1500,1550],"format":"d","ticks":false,"tickSize":0,"domain":false,"grid":false,"labelFontSize":18,"labelPadding":6,"title":"λ / Å","titleFontSize":18,"titleFontWeight":"normal","titlePadding":4}},
"y":{"field":"f","type":"quantitative","scale":{"domain":[16.5,19.5],"nice":false,"zero":false},"axis":{"orient":"left","values":[17,18,19],"ticks":false,"tickSize":0,"domain":false,"grid":false,"labelFontSize":18,"labelPadding":14,"title":"log fλ + const.","titleFontSize":19,"titleFontWeight":"normal","titlePadding":2,"titleY":79,"minExtent":36,"maxExtent":36}}}},
{"data":{"name":"b2000"},"mark":{"type":"line","strokeWidth":1.3,"color":"#ff1a1a"},
"encoding":{"x":{"field":"w","type":"quantitative","scale":{"domain":[1340,1580],"nice":false,"zero":false},"axis":{"orient":"bottom","values":[1350,1400,1450,1500,1550],"labels":false,"tickSize":-12,"domain":false,"grid":false,"title":null,"minExtent":0,"maxExtent":0}},
"y":{"field":"f","type":"quantitative","scale":{"domain":[16.5,19.5],"nice":false,"zero":false},"axis":{"orient":"left","values":[17,18,19],"labels":false,"tickSize":-12,"domain":false,"grid":false,"title":null,"minExtent":0,"maxExtent":0}}}},
{"data":{"name":"b20000"},"mark":{"type":"line","strokeWidth":1.3,"color":"#1e90ff"},
"encoding":{"x":{"field":"w","type":"quantitative","scale":{"domain":[1340,1580],"nice":false,"zero":false},"axis":{"orient":"bottom","values":[1360,1370,1380,1390,1410,1420,1430,1440,1460,1470,1480,1490,1510,1520,1530,1540,1560,1570],"labels":false,"tickSize":-7,"domain":false,"grid":false,"title":null,"minExtent":0,"maxExtent":0}},
"y":{"field":"f","type":"quantitative","scale":{"domain":[16.5,19.5],"nice":false,"zero":false},"axis":{"orient":"left","values":[16.6,16.8,17.2,17.4,17.6,17.8,18.2,18.4,18.6,18.8,19.2,19.4],"labels":false,"tickSize":-7,"domain":false,"grid":false,"title":null,"minExtent":0,"maxExtent":0}}}},
{"data":{"name":"br"},"mark":{"type":"rule","strokeWidth":1.3,"color":"#000"},
"encoding":{"x":{"field":"w","type":"quantitative","scale":{"domain":[1340,1580],"nice":false,"zero":false},"axis":{"orient":"top","values":[1350,1400,1450,1500,1550],"labels":false,"tickSize":-12,"domain":false,"grid":false,"title":null,"minExtent":0,"maxExtent":0}},"x2":{"field":"w2"},
"y":{"field":"f","type":"quantitative","scale":{"domain":[16.5,19.5],"nice":false,"zero":false},"axis":{"orient":"right","values":[17,18,19],"labels":false,"tickSize":-12,"domain":false,"grid":false,"title":null,"minExtent":0,"maxExtent":0}},"y2":{"field":"f2"}}},
{"data":{"name":"bm"},"mark":{"type":"text","fontSize":14.5,"align":"left","baseline":"middle"},
"encoding":{"x":{"field":"w","type":"quantitative","scale":{"domain":[1340,1580],"nice":false,"zero":false},"axis":{"orient":"top","values":[1360,1370,1380,1390,1410,1420,1430,1440,1460,1470,1480,1490,1510,1520,1530,1540,1560,1570],"labels":false,"tickSize":-7,"domain":false,"grid":false,"title":null,"minExtent":0,"maxExtent":0}},
"y":{"field":"f","type":"quantitative","scale":{"domain":[16.5,19.5],"nice":false,"zero":false},"axis":{"orient":"right","values":[16.6,16.8,17.2,17.4,17.6,17.8,18.2,18.4,18.6,18.8,19.2,19.4],"labels":false,"tickSize":-7,"domain":false,"grid":false,"title":null,"minExtent":0,"maxExtent":0}},
"text":{"field":"t"},"color":{"field":"s","type":"nominal","scale":{"domain":["t30","t100","b100","b2000","b20000","k"],"range":["#ff1a1a","#1a1aff","#22c03a","#ff1a1a","#1e90ff","#000000"]},"legend":null}}},
{"data":{"name":"bs"},"mark":{"type":"text","fontSize":8.5,"align":"left","baseline":"middle"},
"encoding":{"x":{"field":"w","type":"quantitative","scale":{"domain":[1340,1580],"nice":false,"zero":false},"axis":null},
"y":{"field":"f","type":"quantitative","scale":{"domain":[16.5,19.5],"nice":false,"zero":false},"axis":null},
"text":{"field":"t"},"color":{"field":"s","type":"nominal","scale":{"domain":["t30","t100","b100","b2000","b20000","k"],"range":["#ff1a1a","#1a1aff","#22c03a","#ff1a1a","#1e90ff","#000000"]},"legend":null}}}
]}
]
}
